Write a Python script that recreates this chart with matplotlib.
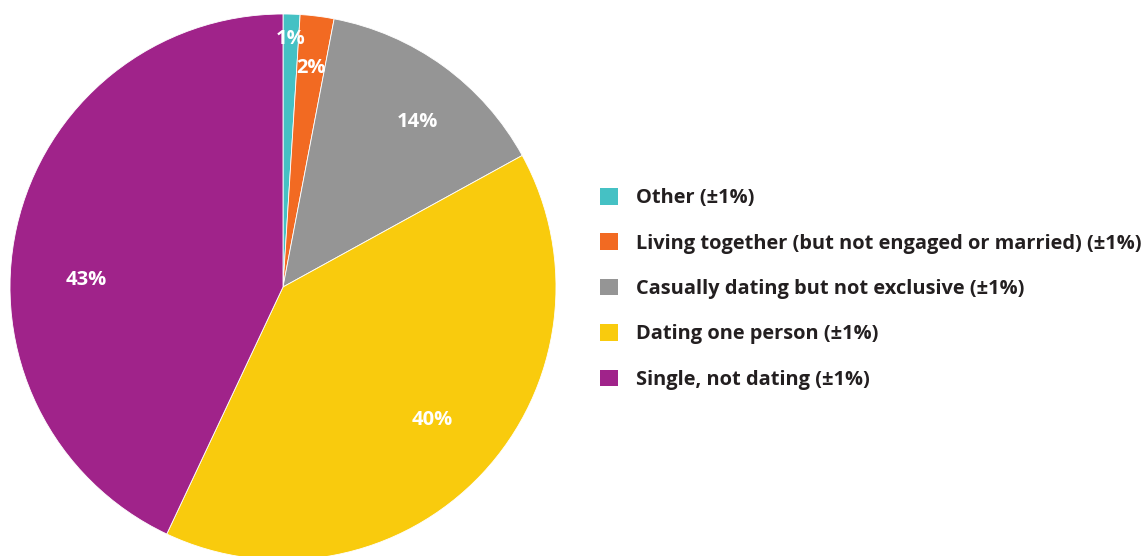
import matplotlib.pyplot as plt
import numpy as np

plt.rcParams['font.family'] = ['Open Sans', 'DejaVu Sans']

# relationship status shares (percent)
categorias = ["Other (±1%)",
              "Living together (but not engaged or married) (±1%)",
              "Casually dating but not exclusive (±1%)",
              "Dating one person (±1%)",
              "Single, not dating (±1%)"]
valores = [1, 2, 14, 40, 43]
cores = ["#45C1C4", "#F26A22", "#959595", "#F9CB0D", "#A0238A"]

# label placement: distance from centre (fraction of radius) and angle nudge (deg)
dist_rotulos = [0.91, 0.81, 0.78, 0.73, 0.72]
desvio_ang = [0, 0, -3, 1.5, 10.5]

W, H = 1148, 556
fig = plt.figure(figsize=(W / 100, H / 100), dpi=100)

# pie axes: centre at (283, 287) px from top-left, radius 273 px
cx, cy, r = 283, 287, 273
ax = fig.add_axes([(cx - r) / W, (H - cy - r) / H, 2 * r / W, 2 * r / H])

fatias, _ = ax.pie(valores, colors=cores, startangle=90, counterclock=False,
                   radius=1, wedgeprops=dict(edgecolor="white", linewidth=0.6))

for fatia, v, d, da in zip(fatias, valores, dist_rotulos, desvio_ang):
    ang = np.deg2rad((fatia.theta1 + fatia.theta2) / 2 + da)
    ax.text(d * np.cos(ang), d * np.sin(ang), f"{v}%", color="white",
            fontsize=14.5, fontweight="bold", ha="center", va="center")

ax.set_xlim(-1, 1)
ax.set_ylim(-1, 1)
ax.set_aspect("equal")
ax.axis("off")

leg = fig.legend(fatias, categorias, loc="center left",
                 bbox_to_anchor=(590 / W, 1 - 289 / H), frameon=False,
                 fontsize=14.4, handlelength=0.9, handleheight=0.9,
                 handletextpad=0.88, labelspacing=1.26, borderpad=0)
for t in leg.get_texts():
    t.set_color("#231F20")
    t.set_fontweight("bold")
for h in leg.legend_handles:
    h.set_edgecolor("none")

fig.savefig("out.png", dpi=100)
